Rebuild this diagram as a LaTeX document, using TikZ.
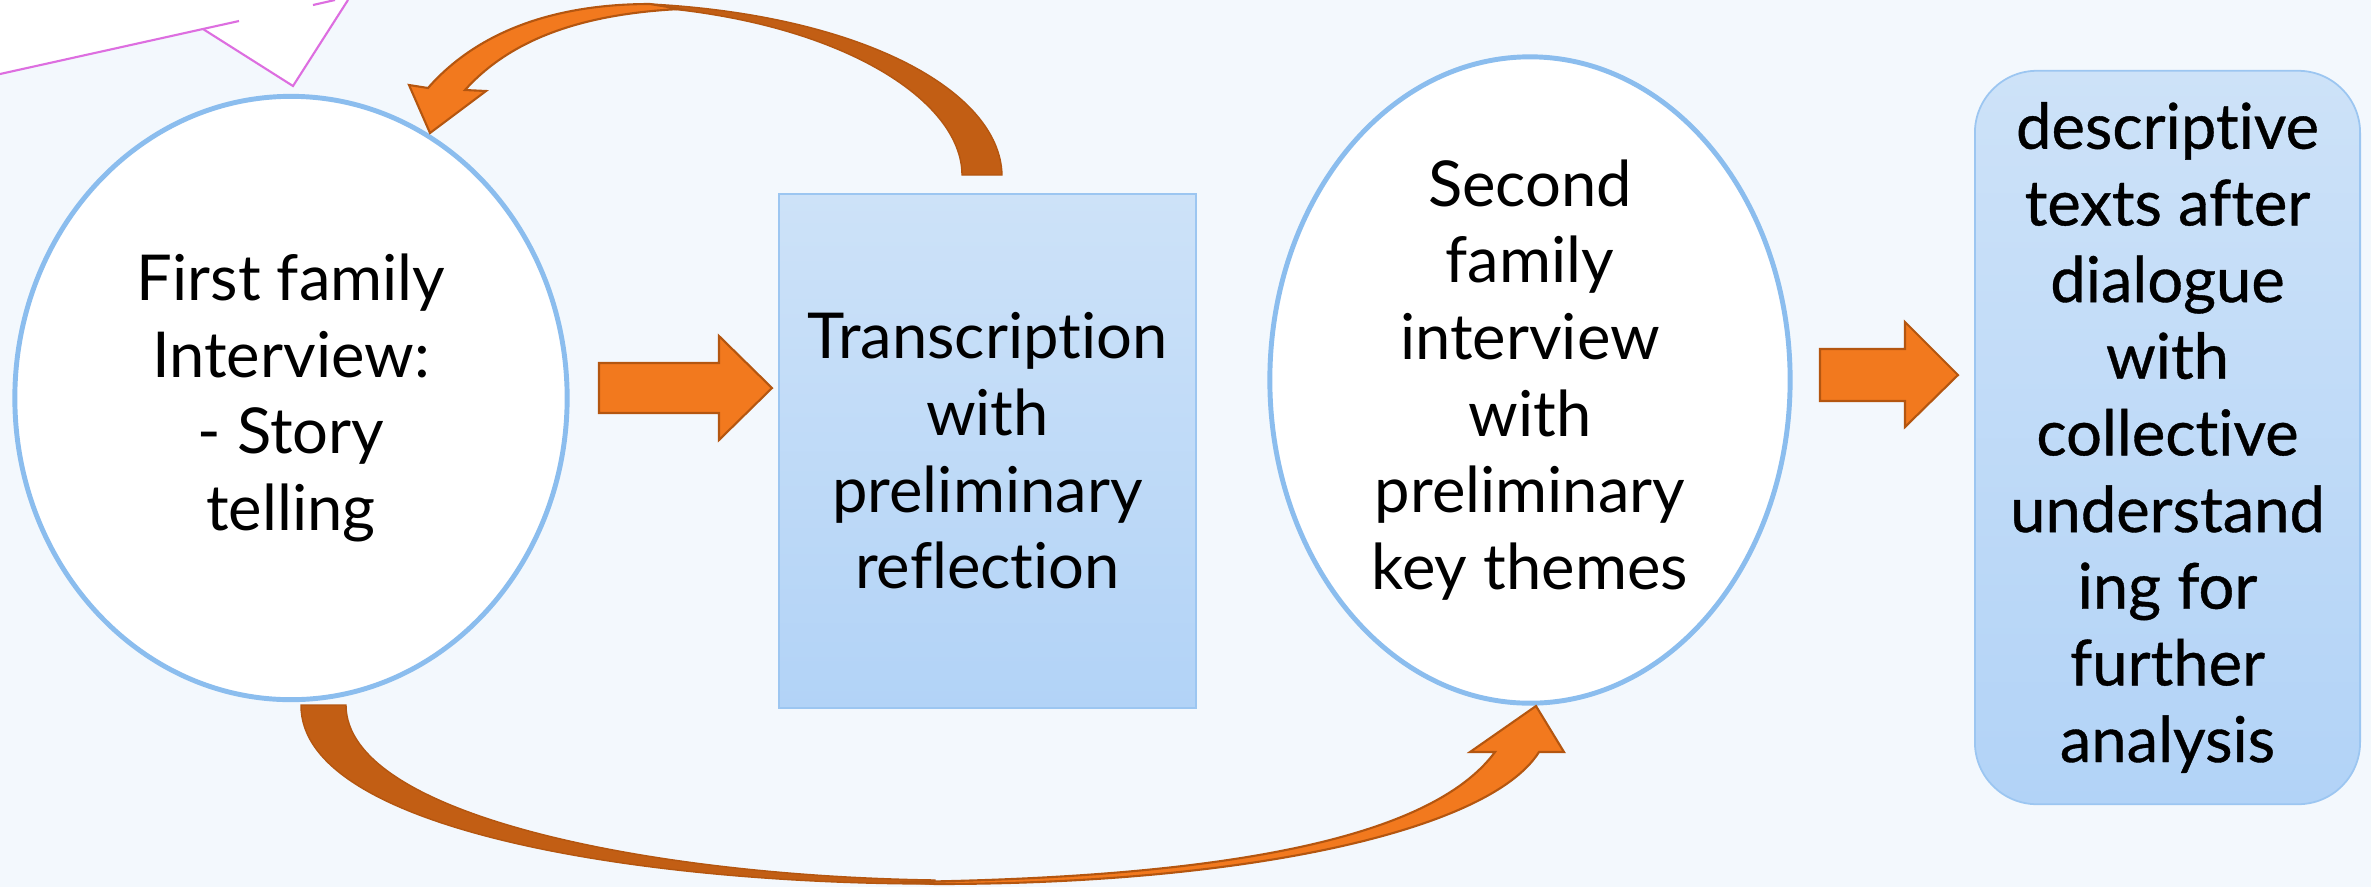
\documentclass[tikz,border=0pt]{standalone}
\usepackage{fontspec}
\setmainfont{Lato}[Ligatures=NoCommon]
\newfontfamily\outfont{Lato}[Ligatures=NoCommon, FakeBold=0.6]
\usetikzlibrary{shapes.geometric}

\definecolor{bgblue}{RGB}{243,248,253}
\definecolor{ringblue}{RGB}{139,189,238}
\definecolor{boxtop}{RGB}{205,226,248}
\definecolor{boxbot}{RGB}{178,211,247}
\definecolor{boxline}{RGB}{156,198,241}
\definecolor{arrowlight}{RGB}{242,121,30}
\definecolor{arrowdark}{RGB}{194,94,20}
\definecolor{arrowline}{RGB}{180,86,16}
\definecolor{pinkline}{RGB}{221,110,224}

\tikzset{
  stage/.style={ellipse, draw=ringblue, line width=1.4pt, fill=white,
    inner sep=0pt, align=center, font=\fontsize{18}{21.8}\selectfont},
  stepbox/.style={rectangle, draw=boxline, line width=0.5pt,
    top color=boxtop, bottom color=boxbot, inner sep=0pt, align=center,
    font=\fontsize{18}{21.8}\selectfont},
  blockarrow/.style={fill=arrowlight, draw=arrowline, line width=0.6pt},
  backband/.style={fill=arrowdark, draw=arrowline, line width=0.4pt},
  frameline/.style={pinkline, line width=0.6pt}
}

\begin{document}
\begin{tikzpicture}[x=0.01cm, y=-0.01cm]
                    \fill[bgblue] (0,0) rectangle (2371,887);
                    \useasboundingbox (0,0) rectangle (2371,887);
                    % cut-off frame in the corner
                    \fill[white] (0,74) -- (203,29) -- (293,86) -- (348,0) -- (0,0) -- cycle;
                    \draw[frameline] (0,74) -- (239,21);
                    \draw[frameline] (203,29) -- (293,86) -- (348,0);
                    \draw[frameline] (313,5) -- (335,0);
                    % stages
                    \node[stage, minimum width=5.52cm, minimum height=6.03cm] (first) at (291,398)
                        {First family\\Interview:\\- Story\\telling};
                    \node[stepbox, minimum width=4.17cm, minimum height=5.14cm] (trans) at (987.5,451)
                        {Transcription\\with\\preliminary\\reflection};
                    \node[stage, minimum width=5.20cm, minimum height=6.46cm] (second) at (1530,380)
                        {Second\\family\\interview\\with\\preliminary\\key themes};
                    \node[stepbox, rounded corners=0.62cm, minimum width=3.85cm, minimum height=7.33cm,
                        font=\outfont\fontsize{18}{21.8}\selectfont] (texts) at (2167.5,437.5)
                        {descriptive\\texts after\\dialogue\\with\\collective\\understand\\ing for\\further\\analysis};
                    % straight arrows
                    \draw[blockarrow] (599,363) -- (719,363) -- (719,336) -- (772,388)
                        -- (719,440) -- (719,413) -- (599,413) -- cycle;
                    \draw[blockarrow] (1820,349) -- (1905,349) -- (1905,322) -- (1958,375)
                        -- (1905,427) -- (1905,401) -- (1820,401) -- cycle;
                    % loop back over the top
                    \draw[backband] (1002,175) .. controls (1000,90) and (860,15) .. (650,4)
                        -- (650,7) .. controls (840,22) and (962,100) .. (962,175) -- cycle;
                    \draw[blockarrow] (650,4) .. controls (540,4) and (470,40) .. (428,88)
                        -- (409,85) -- (430,133) -- (486,91) -- (465,90)
                        .. controls (510,40) and (580,14) .. (680,9) -- cycle;
                    % jump underneath
                    \draw[backband] (301,705) .. controls (300,830) and (640,884) .. (935,884)
                        -- (935,880) .. controls (650,876) and (346,815) .. (346,705) -- cycle;
                    \draw[blockarrow] (935,884) .. controls (1250,884) and (1490,830) .. (1539,752)
                        -- (1564,752) -- (1536,706) -- (1470,752) -- (1495,752)
                        .. controls (1430,840) and (1220,878) .. (900,882) -- cycle;
                \end{tikzpicture}
\end{document}
